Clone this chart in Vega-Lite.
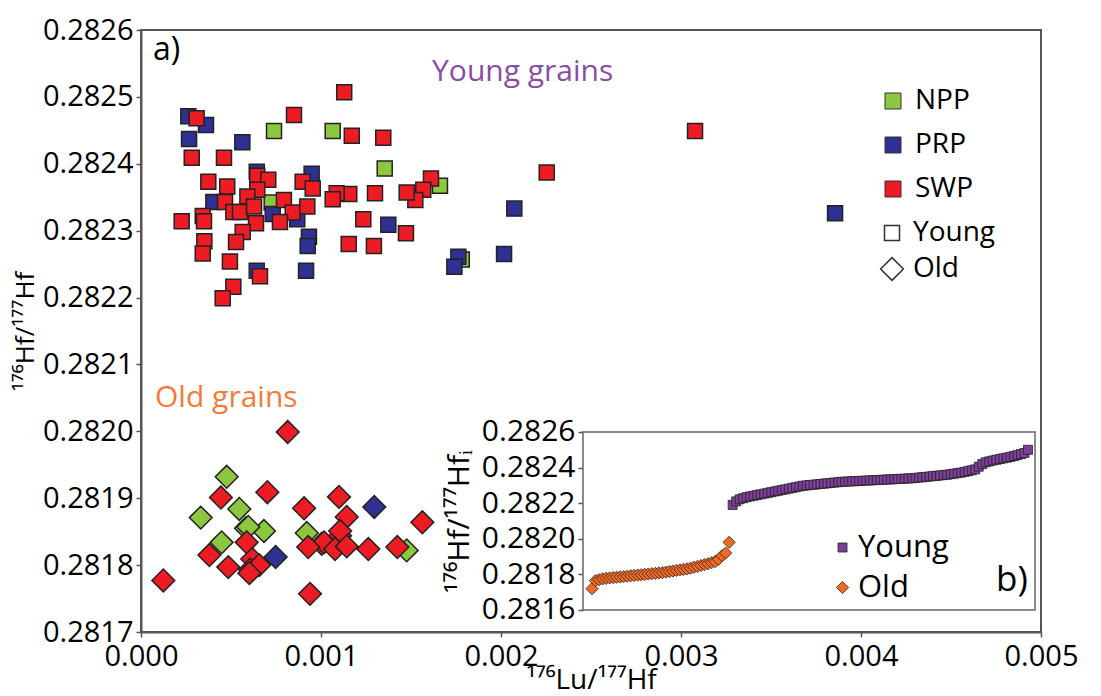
{
  "$schema": "https://vega.github.io/schema/vega-lite/v6.json",
  "width": 900,
  "height": 602,
  "autosize": {"type": "none"},
  "padding": {"left": 141, "top": 30, "right": 60, "bottom": 64},
  "background": "white",
  "config": {
    "font": "Open Sans",
    "view": {"stroke": "#555", "strokeWidth": 2},
    "axis": {
      "domainColor": "#555", "domainWidth": 2, "tickColor": "#555", "tickWidth": 1.5, "tickSize": 5,
      "labelFontSize": 29, "labelColor": "black", "labelPadding": 3, "labelFlush": false, "labelOverlap": false,
      "titleFontWeight": "normal", "titleColor": "black", "grid": false
    },
    "legend": {"labelFontSize": 28, "labelColor": "black", "padding": 0, "offset": 0}
  },
  "datasets": {
    "main": [
      {"x": 0.000739, "y": 0.282449, "loc": "NPP", "age": "Young"},
      {"x": 0.001065, "y": 0.282449, "loc": "NPP", "age": "Young"},
      {"x": 0.001354, "y": 0.282393, "loc": "NPP", "age": "Young"},
      {"x": 0.001661, "y": 0.282367, "loc": "NPP", "age": "Young"},
      {"x": 0.000726, "y": 0.282342, "loc": "NPP", "age": "Young"},
      {"x": 0.001782, "y": 0.282257, "loc": "NPP", "age": "Young"},
      {"x": 0.000263, "y": 0.282471, "loc": "PRP", "age": "Young"},
      {"x": 0.000361, "y": 0.282458, "loc": "PRP", "age": "Young"},
      {"x": 0.000267, "y": 0.282437, "loc": "PRP", "age": "Young"},
      {"x": 0.000563, "y": 0.282432, "loc": "PRP", "age": "Young"},
      {"x": 0.000643, "y": 0.282388, "loc": "PRP", "age": "Young"},
      {"x": 0.000948, "y": 0.282385, "loc": "PRP", "age": "Young"},
      {"x": 0.000402, "y": 0.282343, "loc": "PRP", "age": "Young"},
      {"x": 0.000732, "y": 0.282325, "loc": "PRP", "age": "Young"},
      {"x": 0.000868, "y": 0.282317, "loc": "PRP", "age": "Young"},
      {"x": 0.001374, "y": 0.282309, "loc": "PRP", "age": "Young"},
      {"x": 0.000933, "y": 0.282291, "loc": "PRP", "age": "Young"},
      {"x": 0.000926, "y": 0.282277, "loc": "PRP", "age": "Young"},
      {"x": 0.000643, "y": 0.28224, "loc": "PRP", "age": "Young"},
      {"x": 0.000917, "y": 0.28224, "loc": "PRP", "age": "Young"},
      {"x": 0.002074, "y": 0.282333, "loc": "PRP", "age": "Young"},
      {"x": 0.002017, "y": 0.282265, "loc": "PRP", "age": "Young"},
      {"x": 0.001763, "y": 0.282261, "loc": "PRP", "age": "Young"},
      {"x": 0.001741, "y": 0.282246, "loc": "PRP", "age": "Young"},
      {"x": 0.003856, "y": 0.282326, "loc": "PRP", "age": "Young"},
      {"x": 0.000309, "y": 0.282468, "loc": "SWP", "age": "Young"},
      {"x": 0.000282, "y": 0.282409, "loc": "SWP", "age": "Young"},
      {"x": 0.000461, "y": 0.282409, "loc": "SWP", "age": "Young"},
      {"x": 0.00085, "y": 0.282473, "loc": "SWP", "age": "Young"},
      {"x": 0.001129, "y": 0.282507, "loc": "SWP", "age": "Young"},
      {"x": 0.001171, "y": 0.282442, "loc": "SWP", "age": "Young"},
      {"x": 0.001346, "y": 0.282439, "loc": "SWP", "age": "Young"},
      {"x": 0.001611, "y": 0.282378, "loc": "SWP", "age": "Young"},
      {"x": 0.001568, "y": 0.282361, "loc": "SWP", "age": "Young"},
      {"x": 0.001524, "y": 0.282346, "loc": "SWP", "age": "Young"},
      {"x": 0.001476, "y": 0.282357, "loc": "SWP", "age": "Young"},
      {"x": 0.0013, "y": 0.282356, "loc": "SWP", "age": "Young"},
      {"x": 0.001157, "y": 0.282355, "loc": "SWP", "age": "Young"},
      {"x": 0.001087, "y": 0.282356, "loc": "SWP", "age": "Young"},
      {"x": 0.001065, "y": 0.282347, "loc": "SWP", "age": "Young"},
      {"x": 0.001235, "y": 0.282317, "loc": "SWP", "age": "Young"},
      {"x": 0.001472, "y": 0.282296, "loc": "SWP", "age": "Young"},
      {"x": 0.001154, "y": 0.28228, "loc": "SWP", "age": "Young"},
      {"x": 0.001294, "y": 0.282277, "loc": "SWP", "age": "Young"},
      {"x": 0.000374, "y": 0.282373, "loc": "SWP", "age": "Young"},
      {"x": 0.000479, "y": 0.282366, "loc": "SWP", "age": "Young"},
      {"x": 0.000646, "y": 0.282382, "loc": "SWP", "age": "Young"},
      {"x": 0.000707, "y": 0.282376, "loc": "SWP", "age": "Young"},
      {"x": 0.000646, "y": 0.282361, "loc": "SWP", "age": "Young"},
      {"x": 0.000898, "y": 0.282373, "loc": "SWP", "age": "Young"},
      {"x": 0.000954, "y": 0.282363, "loc": "SWP", "age": "Young"},
      {"x": 0.000591, "y": 0.282351, "loc": "SWP", "age": "Young"},
      {"x": 0.000467, "y": 0.282343, "loc": "SWP", "age": "Young"},
      {"x": 0.000513, "y": 0.282328, "loc": "SWP", "age": "Young"},
      {"x": 0.00055, "y": 0.282328, "loc": "SWP", "age": "Young"},
      {"x": 0.000794, "y": 0.282346, "loc": "SWP", "age": "Young"},
      {"x": 0.000628, "y": 0.282336, "loc": "SWP", "age": "Young"},
      {"x": 0.000843, "y": 0.282327, "loc": "SWP", "age": "Young"},
      {"x": 0.000924, "y": 0.282336, "loc": "SWP", "age": "Young"},
      {"x": 0.000772, "y": 0.282313, "loc": "SWP", "age": "Young"},
      {"x": 0.000639, "y": 0.282311, "loc": "SWP", "age": "Young"},
      {"x": 0.000226, "y": 0.282314, "loc": "SWP", "age": "Young"},
      {"x": 0.000343, "y": 0.282322, "loc": "SWP", "age": "Young"},
      {"x": 0.00035, "y": 0.282314, "loc": "SWP", "age": "Young"},
      {"x": 0.000565, "y": 0.282298, "loc": "SWP", "age": "Young"},
      {"x": 0.000528, "y": 0.282283, "loc": "SWP", "age": "Young"},
      {"x": 0.000352, "y": 0.282284, "loc": "SWP", "age": "Young"},
      {"x": 0.000343, "y": 0.282266, "loc": "SWP", "age": "Young"},
      {"x": 0.000494, "y": 0.282254, "loc": "SWP", "age": "Young"},
      {"x": 0.000661, "y": 0.282232, "loc": "SWP", "age": "Young"},
      {"x": 0.000513, "y": 0.282216, "loc": "SWP", "age": "Young"},
      {"x": 0.000454, "y": 0.282199, "loc": "SWP", "age": "Young"},
      {"x": 0.002254, "y": 0.282387, "loc": "SWP", "age": "Young"},
      {"x": 0.003078, "y": 0.282449, "loc": "SWP", "age": "Young"},
      {"x": 0.000476, "y": 0.281932, "loc": "NPP", "age": "Old"},
      {"x": 0.000546, "y": 0.281884, "loc": "NPP", "age": "Old"},
      {"x": 0.000332, "y": 0.281871, "loc": "NPP", "age": "Old"},
      {"x": 0.000583, "y": 0.281855, "loc": "NPP", "age": "Old"},
      {"x": 0.000683, "y": 0.281851, "loc": "NPP", "age": "Old"},
      {"x": 0.000596, "y": 0.281857, "loc": "NPP", "age": "Old"},
      {"x": 0.000448, "y": 0.281834, "loc": "NPP", "age": "Old"},
      {"x": 0.000921, "y": 0.281848, "loc": "NPP", "age": "Old"},
      {"x": 0.001476, "y": 0.281822, "loc": "NPP", "age": "Old"},
      {"x": 0.001296, "y": 0.281887, "loc": "PRP", "age": "Old"},
      {"x": 0.000748, "y": 0.281812, "loc": "PRP", "age": "Old"},
      {"x": 0.000815, "y": 0.281999, "loc": "SWP", "age": "Old"},
      {"x": 0.000444, "y": 0.281901, "loc": "SWP", "age": "Old"},
      {"x": 0.000702, "y": 0.281909, "loc": "SWP", "age": "Old"},
      {"x": 0.000906, "y": 0.281885, "loc": "SWP", "age": "Old"},
      {"x": 0.0011, "y": 0.281902, "loc": "SWP", "age": "Old"},
      {"x": 0.001143, "y": 0.281872, "loc": "SWP", "age": "Old"},
      {"x": 0.001563, "y": 0.281864, "loc": "SWP", "age": "Old"},
      {"x": 0.000587, "y": 0.281834, "loc": "SWP", "age": "Old"},
      {"x": 0.001106, "y": 0.281844, "loc": "SWP", "age": "Old"},
      {"x": 0.001106, "y": 0.281851, "loc": "SWP", "age": "Old"},
      {"x": 0.001004, "y": 0.281832, "loc": "SWP", "age": "Old"},
      {"x": 0.001017, "y": 0.281834, "loc": "SWP", "age": "Old"},
      {"x": 0.000929, "y": 0.281827, "loc": "SWP", "age": "Old"},
      {"x": 0.001078, "y": 0.281824, "loc": "SWP", "age": "Old"},
      {"x": 0.001143, "y": 0.281828, "loc": "SWP", "age": "Old"},
      {"x": 0.001263, "y": 0.281824, "loc": "SWP", "age": "Old"},
      {"x": 0.001424, "y": 0.281827, "loc": "SWP", "age": "Old"},
      {"x": 0.00038, "y": 0.281815, "loc": "SWP", "age": "Old"},
      {"x": 0.000618, "y": 0.281809, "loc": "SWP", "age": "Old"},
      {"x": 0.000485, "y": 0.281797, "loc": "SWP", "age": "Old"},
      {"x": 0.000606, "y": 0.281793, "loc": "SWP", "age": "Old"},
      {"x": 0.000657, "y": 0.2818, "loc": "SWP", "age": "Old"},
      {"x": 0.000602, "y": 0.281788, "loc": "SWP", "age": "Old"},
      {"x": 0.000124, "y": 0.281777, "loc": "SWP", "age": "Old"},
      {"x": 0.000939, "y": 0.281757, "loc": "SWP", "age": "Old"}
    ],
    "inset": [
      {"idx": 1, "v": 0.28172, "grp": "Old"}, {"idx": 2, "v": 0.281765, "grp": "Old"}, {"idx": 3, "v": 0.28177, "grp": "Old"},
      {"idx": 4, "v": 0.281775, "grp": "Old"}, {"idx": 5, "v": 0.281778, "grp": "Old"}, {"idx": 6, "v": 0.28178, "grp": "Old"},
      {"idx": 7, "v": 0.281782, "grp": "Old"}, {"idx": 8, "v": 0.281784, "grp": "Old"}, {"idx": 9, "v": 0.281786, "grp": "Old"},
      {"idx": 10, "v": 0.281788, "grp": "Old"}, {"idx": 11, "v": 0.28179, "grp": "Old"}, {"idx": 12, "v": 0.281792, "grp": "Old"},
      {"idx": 13, "v": 0.281794, "grp": "Old"}, {"idx": 14, "v": 0.281796, "grp": "Old"}, {"idx": 15, "v": 0.281798, "grp": "Old"},
      {"idx": 16, "v": 0.2818, "grp": "Old"}, {"idx": 17, "v": 0.281802, "grp": "Old"}, {"idx": 18, "v": 0.281804, "grp": "Old"},
      {"idx": 19, "v": 0.281806, "grp": "Old"}, {"idx": 20, "v": 0.281808, "grp": "Old"}, {"idx": 21, "v": 0.28181, "grp": "Old"},
      {"idx": 22, "v": 0.281813, "grp": "Old"}, {"idx": 23, "v": 0.281816, "grp": "Old"}, {"idx": 24, "v": 0.281819, "grp": "Old"},
      {"idx": 25, "v": 0.281822, "grp": "Old"}, {"idx": 26, "v": 0.281825, "grp": "Old"}, {"idx": 27, "v": 0.281828, "grp": "Old"},
      {"idx": 28, "v": 0.281831, "grp": "Old"}, {"idx": 29, "v": 0.281835, "grp": "Old"}, {"idx": 30, "v": 0.28184, "grp": "Old"},
      {"idx": 31, "v": 0.281845, "grp": "Old"}, {"idx": 32, "v": 0.28185, "grp": "Old"}, {"idx": 33, "v": 0.281855, "grp": "Old"},
      {"idx": 34, "v": 0.28186, "grp": "Old"}, {"idx": 35, "v": 0.281866, "grp": "Old"}, {"idx": 36, "v": 0.281872, "grp": "Old"},
      {"idx": 37, "v": 0.281885, "grp": "Old"}, {"idx": 38, "v": 0.281905, "grp": "Old"}, {"idx": 39, "v": 0.28192, "grp": "Old"},
      {"idx": 40, "v": 0.28198, "grp": "Old"},
      {"idx": 41, "v": 0.28219, "grp": "Young"}, {"idx": 42, "v": 0.28221, "grp": "Young"}, {"idx": 43, "v": 0.282222, "grp": "Young"},
      {"idx": 44, "v": 0.282228, "grp": "Young"}, {"idx": 45, "v": 0.282234, "grp": "Young"}, {"idx": 46, "v": 0.282238, "grp": "Young"},
      {"idx": 47, "v": 0.282242, "grp": "Young"}, {"idx": 48, "v": 0.282246, "grp": "Young"}, {"idx": 49, "v": 0.28225, "grp": "Young"},
      {"idx": 50, "v": 0.282254, "grp": "Young"}, {"idx": 51, "v": 0.282258, "grp": "Young"}, {"idx": 52, "v": 0.282262, "grp": "Young"},
      {"idx": 53, "v": 0.282266, "grp": "Young"}, {"idx": 54, "v": 0.28227, "grp": "Young"}, {"idx": 55, "v": 0.282274, "grp": "Young"},
      {"idx": 56, "v": 0.282278, "grp": "Young"}, {"idx": 57, "v": 0.282282, "grp": "Young"}, {"idx": 58, "v": 0.282286, "grp": "Young"},
      {"idx": 59, "v": 0.28229, "grp": "Young"}, {"idx": 60, "v": 0.282294, "grp": "Young"}, {"idx": 61, "v": 0.282298, "grp": "Young"},
      {"idx": 62, "v": 0.2823, "grp": "Young"}, {"idx": 63, "v": 0.282302, "grp": "Young"}, {"idx": 64, "v": 0.282304, "grp": "Young"},
      {"idx": 65, "v": 0.282306, "grp": "Young"}, {"idx": 66, "v": 0.282308, "grp": "Young"}, {"idx": 67, "v": 0.28231, "grp": "Young"},
      {"idx": 68, "v": 0.282312, "grp": "Young"}, {"idx": 69, "v": 0.282314, "grp": "Young"}, {"idx": 70, "v": 0.282316, "grp": "Young"},
      {"idx": 71, "v": 0.282318, "grp": "Young"}, {"idx": 72, "v": 0.28232, "grp": "Young"}, {"idx": 73, "v": 0.282321, "grp": "Young"},
      {"idx": 74, "v": 0.282322, "grp": "Young"}, {"idx": 75, "v": 0.282323, "grp": "Young"}, {"idx": 76, "v": 0.282324, "grp": "Young"},
      {"idx": 77, "v": 0.282325, "grp": "Young"}, {"idx": 78, "v": 0.282326, "grp": "Young"}, {"idx": 79, "v": 0.282327, "grp": "Young"},
      {"idx": 80, "v": 0.282328, "grp": "Young"}, {"idx": 81, "v": 0.282329, "grp": "Young"}, {"idx": 82, "v": 0.28233, "grp": "Young"},
      {"idx": 83, "v": 0.282331, "grp": "Young"}, {"idx": 84, "v": 0.282332, "grp": "Young"}, {"idx": 85, "v": 0.282333, "grp": "Young"},
      {"idx": 86, "v": 0.282334, "grp": "Young"}, {"idx": 87, "v": 0.282335, "grp": "Young"}, {"idx": 88, "v": 0.282336, "grp": "Young"},
      {"idx": 89, "v": 0.282337, "grp": "Young"}, {"idx": 90, "v": 0.282338, "grp": "Young"}, {"idx": 91, "v": 0.282339, "grp": "Young"},
      {"idx": 92, "v": 0.28234, "grp": "Young"}, {"idx": 93, "v": 0.282342, "grp": "Young"}, {"idx": 94, "v": 0.282344, "grp": "Young"},
      {"idx": 95, "v": 0.282346, "grp": "Young"}, {"idx": 96, "v": 0.282348, "grp": "Young"}, {"idx": 97, "v": 0.28235, "grp": "Young"},
      {"idx": 98, "v": 0.282352, "grp": "Young"}, {"idx": 99, "v": 0.282354, "grp": "Young"}, {"idx": 100, "v": 0.282356, "grp": "Young"},
      {"idx": 101, "v": 0.282358, "grp": "Young"}, {"idx": 102, "v": 0.28236, "grp": "Young"}, {"idx": 103, "v": 0.282363, "grp": "Young"},
      {"idx": 104, "v": 0.282366, "grp": "Young"}, {"idx": 105, "v": 0.282369, "grp": "Young"}, {"idx": 106, "v": 0.282372, "grp": "Young"},
      {"idx": 107, "v": 0.282376, "grp": "Young"}, {"idx": 108, "v": 0.28238, "grp": "Young"}, {"idx": 109, "v": 0.282385, "grp": "Young"},
      {"idx": 110, "v": 0.28239, "grp": "Young"}, {"idx": 111, "v": 0.282405, "grp": "Young"}, {"idx": 112, "v": 0.28242, "grp": "Young"},
      {"idx": 113, "v": 0.28243, "grp": "Young"}, {"idx": 114, "v": 0.282435, "grp": "Young"}, {"idx": 115, "v": 0.28244, "grp": "Young"},
      {"idx": 116, "v": 0.282444, "grp": "Young"}, {"idx": 117, "v": 0.282448, "grp": "Young"}, {"idx": 118, "v": 0.282452, "grp": "Young"},
      {"idx": 119, "v": 0.282456, "grp": "Young"}, {"idx": 120, "v": 0.28246, "grp": "Young"}, {"idx": 121, "v": 0.282465, "grp": "Young"},
      {"idx": 122, "v": 0.28247, "grp": "Young"}, {"idx": 123, "v": 0.282476, "grp": "Young"}, {"idx": 124, "v": 0.282482, "grp": "Young"},
      {"idx": 125, "v": 0.2825, "grp": "Young"}
    ]
  },
  "layer": [
    {
      "layer": [
        {
          "data": {"name": "main"},
          "mark": {"type": "point", "filled": true, "opacity": 1, "stroke": "#222", "strokeWidth": 1.5},
          "encoding": {
            "x": {"field": "x", "type": "quantitative",
              "scale": {"domain": [0, 0.005], "nice": false, "zero": false},
              "axis": {"values": [0, 0.001, 0.002, 0.003, 0.004, 0.005], "format": ".3f", "labelPadding": 5, "title": "¹⁷⁶Lu/¹⁷⁷Hf", "titleFontSize": 28, "titlePadding": -5}},
            "y": {"field": "y", "type": "quantitative",
              "scale": {"domain": [0.2817, 0.2826], "nice": false, "zero": false},
              "axis": {"orient": "left", "values": [0.2817, 0.2818, 0.2819, 0.282, 0.2821, 0.2822, 0.2823, 0.2824, 0.2825, 0.2826], "format": ".4f", "title": "¹⁷⁶Hf/¹⁷⁷Hf", "titleFontSize": 26, "titlePadding": 4}},
            "color": {"field": "loc", "type": "nominal",
              "scale": {"domain": ["NPP", "PRP", "SWP"], "range": ["#8DC63F", "#2E3192", "#ED1C24"]},
              "legend": {"title": null, "orient": "none", "legendX": 738, "legendY": 57, "symbolType": "square", "symbolSize": 256, "symbolStrokeColor": "#333", "symbolStrokeWidth": 1, "labelOffset": 8, "rowPadding": 16, "labelFontSize": 28}},
            "shape": {"field": "age", "type": "nominal",
              "scale": {"domain": ["Young", "Old"], "range": ["square", "diamond"]},
              "legend": {"title": null, "orient": "none", "legendX": 737, "legendY": 189, "symbolFillColor": "white", "symbolStrokeColor": "#333", "symbolStrokeWidth": 1.5, "labelOffset": 7, "rowPadding": 7, "labelFontSize": 28,
                "encode": {"symbols": {"update": {"fill": {"value": "white"}, "stroke": {"value": "#333"}, "strokeWidth": {"value": 1.5}, "opacity": {"value": 1}}}}}},
            "size": {"field": "age", "type": "nominal",
              "scale": {"domain": ["Young", "Old"], "range": [225, 520]},
              "legend": {"title": null, "orient": "none", "legendX": 737, "legendY": 189, "symbolFillColor": "white", "symbolStrokeColor": "#333", "symbolStrokeWidth": 1.5, "labelOffset": 7, "rowPadding": 7, "labelFontSize": 28,
                "encode": {"symbols": {"update": {"fill": {"value": "white"}, "stroke": {"value": "#333"}, "strokeWidth": {"value": 1.5}, "opacity": {"value": 1}}}}}}
          }
        },
        {
          "data": {"values": [{"label": "a)"}]},
          "mark": {"type": "text", "align": "left", "baseline": "middle", "fontSize": 32, "color": "black"},
          "encoding": {"text": {"field": "label"}, "x": {"datum": 0.000067}, "y": {"datum": 0.28257}}
        },
        {
          "data": {"values": [{"label": "Young grains"}]},
          "mark": {"type": "text", "align": "left", "baseline": "middle", "fontSize": 30, "color": "#8B4CA8"},
          "encoding": {"text": {"field": "label"}, "x": {"datum": 0.001617}, "y": {"datum": 0.282537}}
        },
        {
          "data": {"values": [{"label": "Old grains"}]},
          "mark": {"type": "text", "align": "left", "baseline": "middle", "fontSize": 30, "color": "#F47B3A"},
          "encoding": {"text": {"field": "label"}, "x": {"datum": 0.000078}, "y": {"datum": 0.28205}}
        }
      ]
    },
    {
      "layer": [
        {
          "data": {"values": [{"frame": "inset"}]},
          "mark": {"type": "rect", "fill": "white", "stroke": "#666", "strokeWidth": 1.5},
          "encoding": {
            "x": {"datum": -1.56, "type": "quantitative", "scale": {"domain": [-127.27, 128.7], "nice": false, "zero": false}, "axis": null},
            "x2": {"datum": 127},
            "y": {"datum": 0.2816, "type": "quantitative", "scale": {"domain": [0.2814764, 0.2848584], "nice": false, "zero": false},
              "axis": {"orient": "left", "offset": -442, "domain": false, "values": [0.2816, 0.2818, 0.282, 0.2822, 0.2824, 0.2826], "format": ".4f", "labelFontSize": 30, "title": "¹⁷⁶Hf/¹⁷⁷Hfᵢ", "titleFontSize": 30, "titlePadding": 7, "titleY": 491}},
            "y2": {"datum": 0.2826}
          }
        },
        {
          "data": {"name": "inset"},
          "mark": {"type": "point", "filled": true, "opacity": 1, "stroke": "#222", "strokeWidth": 0.8},
          "encoding": {
            "x": {"field": "idx", "type": "quantitative"},
            "y": {"field": "v", "type": "quantitative"},
            "color": {"field": "grp", "type": "nominal",
              "scale": {"domain": ["Young", "Old"], "range": ["#7E3F98", "#F26A21"]},
              "legend": {"title": null, "orient": "none", "legendX": 686, "legendY": 502, "symbolSize": 110, "labelOffset": 0, "rowPadding": 8, "labelFontSize": 31, "symbolStrokeColor": "#222", "symbolStrokeWidth": 0.8}},
            "shape": {"field": "grp", "type": "nominal",
              "scale": {"domain": ["Young", "Old"], "range": ["square", "diamond"]},
              "legend": {"title": null, "orient": "none", "legendX": 686, "legendY": 502, "symbolSize": 110, "labelOffset": 0, "rowPadding": 8, "labelFontSize": 31, "symbolStrokeColor": "#222", "symbolStrokeWidth": 0.8}},
            "size": {"field": "grp", "type": "nominal",
              "scale": {"domain": ["Young", "Old"], "range": [81, 150]},
              "legend": null}
          }
        },
        {
          "data": {"values": [{"label": "b)"}]},
          "mark": {"type": "text", "align": "center", "baseline": "middle", "fontSize": 35, "color": "black"},
          "encoding": {"text": {"field": "label"}, "x": {"datum": 120.45}, "y": {"datum": 0.2817685}}
        }
      ]
    }
  ],
  "resolve": {"scale": {"x": "independent", "y": "independent", "color": "independent", "shape": "independent", "size": "independent"}}
}
